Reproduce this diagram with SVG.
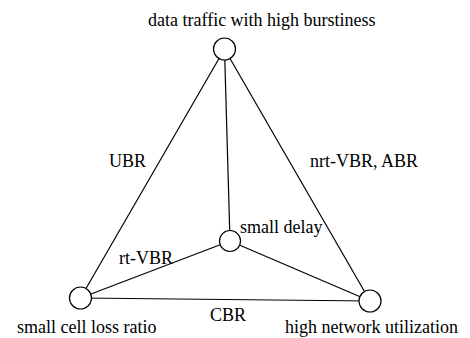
<svg xmlns="http://www.w3.org/2000/svg" width="470" height="338" viewBox="0 0 470 338">
<style>
text{font-family:'Liberation Serif','Times New Roman',serif;font-size:18px;fill:#000}
.n{fill:#fff;stroke:#000;stroke-width:1.2}
.e{stroke:#000;stroke-width:1.2;fill:none}
</style>
<rect width="470" height="338" fill="#fff"/>
<g id="connectors">
<line class="e" x1="224.5" y1="49" x2="80.5" y2="298"/>
<line class="e" x1="224.5" y1="49" x2="370" y2="301"/>
<line class="e" x1="224.5" y1="49" x2="230" y2="241"/>
<line class="e" x1="230" y1="241" x2="80.5" y2="298"/>
<line class="e" x1="230" y1="241" x2="370" y2="301"/>
<line class="e" x1="80.5" y1="298" x2="370" y2="301"/>
<text x="109" y="167">UBR</text>
<text x="310" y="167">nrt-VBR, ABR</text>
<text x="119" y="264">rt-VBR</text>
<text x="210" y="321">CBR</text>
</g>
<g id="top"><circle class="n" cx="224.5" cy="49" r="11"/><text x="148" y="26">data traffic with high burstiness</text></g>
<g id="center"><circle class="n" cx="230" cy="241" r="10.5"/><text x="240" y="233">small delay</text></g>
<g id="left"><circle class="n" cx="80.5" cy="298" r="11"/><text x="17" y="333">small cell loss ratio</text></g>
<g id="right"><circle class="n" cx="370" cy="301" r="11"/><text x="285" y="333">high network utilization</text></g>
</svg>
